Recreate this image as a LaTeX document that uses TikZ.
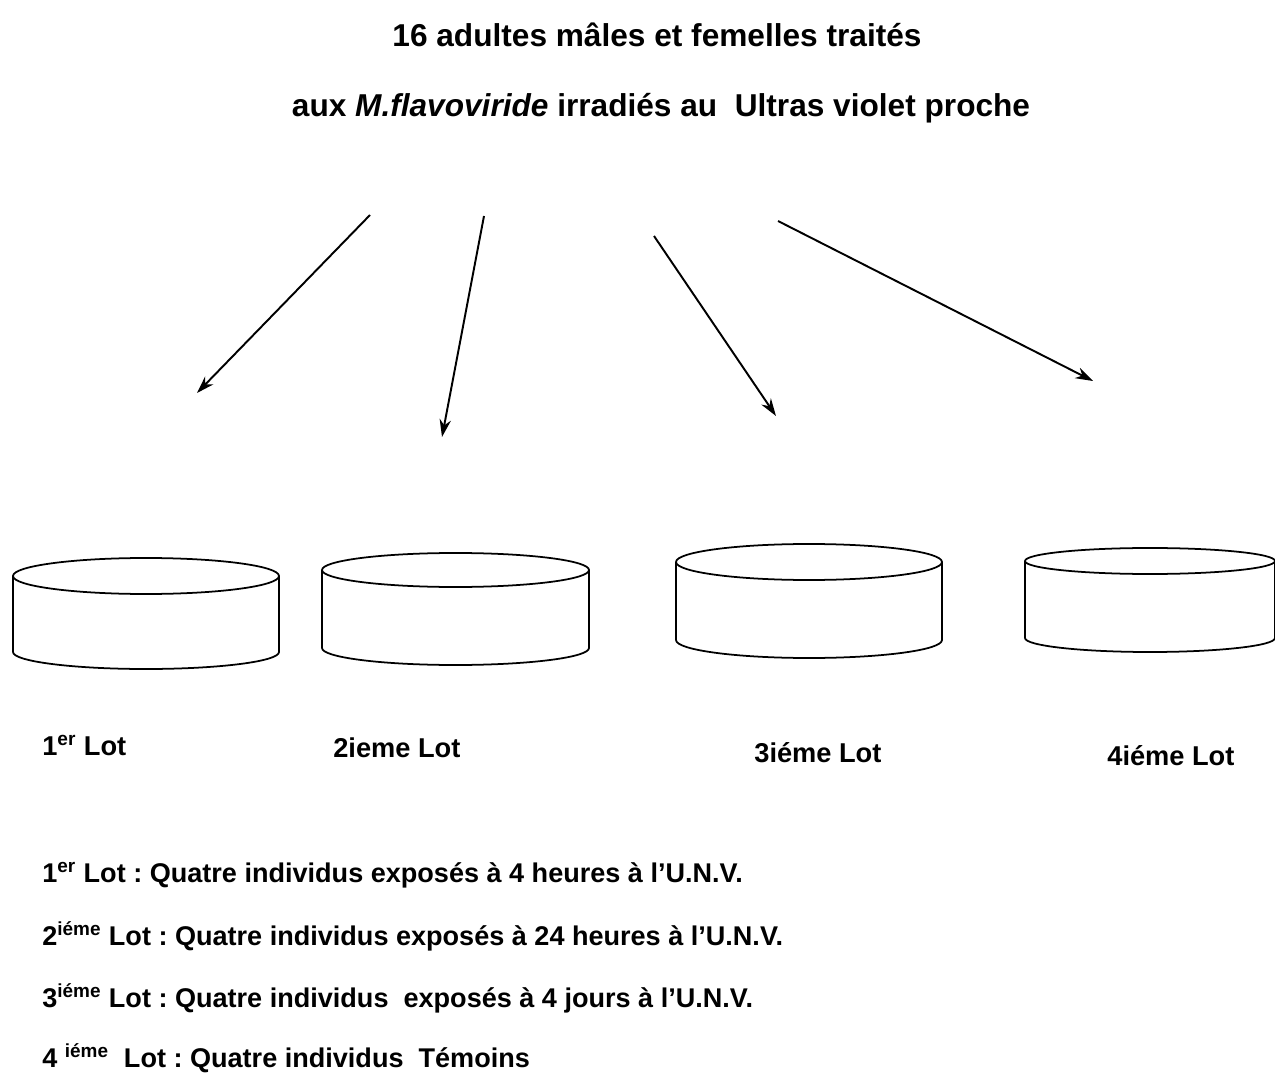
\documentclass[tikz,border=0pt]{standalone}
\usepackage{fontspec}
\setmainfont{Liberation Sans}
\usetikzlibrary{positioning,arrows.meta}
\tikzset{>={Stealth[length=10pt,width=6.5pt]}}
\tikzset{title/.style={font=\fontsize{18}{20}\selectfont\bfseries,inner sep=0pt},
  lotname/.style={font=\fontsize{15.5}{17}\selectfont\bfseries,anchor=base west,inner sep=0pt},
  lotline/.style={font=\fontsize{15.4}{17}\selectfont\bfseries,anchor=base west,inner sep=0pt},
  pot/.style={line width=1pt}}
\frenchspacing

\begin{document}
\begin{tikzpicture}[x=0.02cm,y=-0.02cm]
\useasboundingbox (0,0) rectangle (1275,1074);
\node[title,anchor=base] (T1) at (657,47) {16 adultes mâles et femelles traités};
\node[title,anchor=base] (T2) at (661,117) {aux \textit{M.flavoviride} irradiés au\ \ Ultras violet proche};
\coordinate (s1) at (370,215);
\coordinate (s2) at (484,216);
\coordinate (s3) at (654,236);
\coordinate (s4) at (778,221);
\coordinate (e1) at (197,393);
\coordinate (e2) at (442,437);
\coordinate (e3) at (776,416);
\coordinate (e4) at (1093,381);
\draw[->,line width=1.1pt] (s1) -- (e1);
\draw[->,line width=1.1pt] (s2) -- (e2);
\draw[->,line width=1.1pt] (s3) -- (e3);
\draw[->,line width=1.1pt] (s4) -- (e4);
% the four pots
\draw[pot] (146,576) ellipse[x radius=133,y radius=18];
\draw[pot] (13,576) -- (13,652) arc[start angle=180,end angle=0,x radius=133,y radius=17] -- (279,576);
\draw[pot] (455.5,570) ellipse[x radius=133.5,y radius=17];
\draw[pot] (322,570) -- (322,648) arc[start angle=180,end angle=0,x radius=133.5,y radius=17] -- (589,570);
\draw[pot] (809,562) ellipse[x radius=133,y radius=18];
\draw[pot] (676,562) -- (676,640) arc[start angle=180,end angle=0,x radius=133,y radius=18] -- (942,562);
\draw[pot] (1150,561) ellipse[x radius=125,y radius=13];
\draw[pot] (1025,561) -- (1025,638) arc[start angle=180,end angle=0,x radius=125,y radius=14] -- (1275,561);
\node[lotname] (L1) at (42,755) {1\textsuperscript{er} Lot};
\node[lotname] (L2) at (333,757) {2ieme Lot};
\node[lotname] (L3) at (754,762) {3iéme Lot};
\node[lotname] (L4) at (1107,765) {4iéme Lot};
\node[lotline] (D1) at (42,882) {1\textsuperscript{er} Lot : Quatre individus exposés à 4 heures à l’U.N.V.};
\node[lotline] (D2) at (42,945) {2\textsuperscript{iéme} Lot : Quatre individus exposés à 24 heures à l’U.N.V.};
\node[lotline] (D3) at (42,1007) {3\textsuperscript{iéme} Lot : Quatre individus\ \ exposés à 4 jours à l’U.N.V.};
\node[lotline] (D4) at (42,1067) {4 \textsuperscript{iéme}\ \ Lot : Quatre individus\ \ Témoins};
\end{tikzpicture}
\end{document}
